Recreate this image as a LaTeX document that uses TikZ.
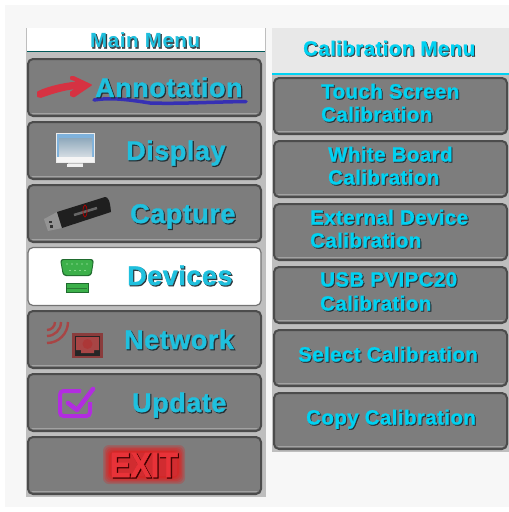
\documentclass[tikz,border=0pt]{standalone}
\usepackage{fontspec}
\setmainfont{Liberation Sans}
\newfontfamily\menufont[LetterSpace=2,FakeBold=1.2]{Liberation Sans Bold}
\newfontfamily\menushfont[LetterSpace=2,FakeBold=3.2]{Liberation Sans Bold}
\newfontfamily\calfont[LetterSpace=2,FakeBold=1.0]{Liberation Sans Bold}
\newfontfamily\calshfont[LetterSpace=2,FakeBold=1.6]{Liberation Sans Bold}
\newfontfamily\headfont[LetterSpace=2.8]{Liberation Sans Bold}
\newfontfamily\headshfont[LetterSpace=2.8,FakeBold=1.8]{Liberation Sans Bold}
\newfontfamily\exitfont[FakeBold=1.5]{Liberation Sans Bold}
\newfontfamily\exitshfont[FakeBold=3]{Liberation Sans Bold}
\definecolor{pagebg}{HTML}{F7F7F7}
\definecolor{panel}{HTML}{BEBEBE}
\definecolor{btn}{HTML}{7D7D7D}
\definecolor{btnedge}{HTML}{4C4C4C}
\definecolor{btnlow}{HTML}{A2A2A2}
\definecolor{menucyan}{HTML}{1FC0DE}
\definecolor{calcyan}{HTML}{00D2F2}
\definecolor{shade}{HTML}{1E2A30}
\definecolor{arrowred}{HTML}{D63242}
\definecolor{inkblue}{HTML}{3630B4}
\definecolor{checkpurple}{HTML}{B22CE0}
\definecolor{netred}{HTML}{A84545}
\definecolor{netframe}{HTML}{8A3C3C}
\definecolor{portgreen}{HTML}{3CB04A}
\definecolor{portdark}{HTML}{1F6B2E}
\definecolor{exitred}{HTML}{E83238}
\definecolor{monedge}{HTML}{7FB2DC}
\definecolor{montop}{HTML}{8FA9BC}
\definecolor{monlow}{HTML}{D5DDE3}
\tikzset{
  menubtn/.style={draw=btnedge,line width=2pt,fill=btn,rounded corners=5pt,minimum width=233pt,minimum height=57pt,inner sep=0pt},
  calbtn/.style={menubtn,minimum height=56pt},
  selbtn/.style={draw=black!55,line width=1.2pt,fill=white,rounded corners=5pt,minimum width=233pt,minimum height=58pt,inner sep=0pt},
  lowedge/.style={draw=btnlow,line width=1pt,line cap=round},
  base/.style={anchor=base west,inner sep=0pt},
  menutxt/.style={base,text=menucyan,font=\menufont\fontsize{27}{27}\selectfont},
  menutxts/.style={base,text=shade,text opacity=.85,font=\menushfont\fontsize{27}{27}\selectfont},
  caltxt/.style={base,text=calcyan,font=\calfont\fontsize{20.5}{20.5}\selectfont},
  caltxts/.style={base,text=shade,text opacity=.85,font=\calshfont\fontsize{20.5}{20.5}\selectfont},
  headtxt/.style={base,text=menucyan,font=\headfont\fontsize{20.5}{20.5}\selectfont},
  headtxts/.style={base,text=shade,text opacity=.85,font=\headshfont\fontsize{20.5}{20.5}\selectfont},
  exittxt/.style={base,xscale=.87,text=exitred,font=\exitfont\fontsize{35}{35}\selectfont},
  exittxts/.style={base,xscale=.87,text=black!75!red,font=\exitshfont\fontsize{35}{35}\selectfont},
}
% shadowed label: style, name, x, baseline y, text
\newcommand{\shlabel}[5]{%
  \node[#1s] (#2s) at (#3+1,#4+1) {#5};
  \node[#1] (#2) at (#3,#4) {#5};}
\newcommand{\lowline}[3]{\draw[lowedge] (#1,#3) -- (#2,#3);}
\begin{document}
\begin{tikzpicture}[x=1pt,y=-1pt]
\useasboundingbox (0,0) rectangle (509,512);
\fill[white] (0,0) rectangle (509,512);
\fill[pagebg] (5,5) rectangle (509,507);
% left panel
\fill[panel] (26,28) rectangle (266,497);
\fill[white] (27,28) rectangle (265,52);
\draw[teal!70!black,line width=1pt] (27,51.5) -- (265,51.5);
% left buttons
\node[menubtn] (annot) at (144.5,87.5) {};
\node[menubtn] (disp) at (144.5,150.5) {};
\node[menubtn] (capt) at (144.5,213.5) {};
\node[selbtn] (dev) at (144.5,276.5) {};
\node[menubtn] (netw) at (144.5,339.5) {};
\node[menubtn] (upd) at (144.5,402.5) {};
\node[menubtn] (exitb) at (144.5,465.5) {};
\foreach \yy in {113.5,176.5,239.5,365.5,428.5,491.5}{\lowline{32}{257}{\yy}}
% right panel
\fill[panel] (272,28) rectangle (509,452);
\fill[black!9] (272,28) rectangle (509,73);
\draw[calcyan,line width=2pt] (272,74) -- (509,74);
\node[calbtn] (touch) at (390.5,106) {};
\node[calbtn] (white) at (390.5,169) {};
\node[calbtn] (extd) at (390.5,232) {};
\node[calbtn] (usbc) at (390.5,295) {};
\node[calbtn] (sel) at (390.5,358) {};
\node[calbtn] (copyc) at (390.5,421) {};
\foreach \yy in {131.5,194.5,257.5,320.5,383.5,446.5}{\lowline{278}{503}{\yy}}
% annotation icon
\filldraw[arrowred,line width=1.6pt,line join=round] (38,92) .. controls (50,86) and (68,83) .. (80,82)
  -- (71,79) -- (71,77) -- (74,77) -- (91,85) -- (74,96.5) -- (71,95.5) -- (71,92) -- (78,88)
  .. controls (65,89) and (52,93) .. (41,97) -- (38,96.5) -- cycle;
\draw[line width=3.5pt,line cap=round,color=inkblue]
  (94,100) .. controls (110,97.5) and (125,99) .. (150,103) .. controls (180,104) and (210,102) .. (246,101.5);
% display icon
\fill[black!25] (68,162) rectangle (83,164);
\fill[black!6] (67,164) rectangle (83,167);
\fill[black!8] (56,133) rectangle (95,163);
\fill[monedge] (57,134) rectangle (94,138);
\fill[monedge] (57,134) rectangle (59,157);
\fill[monedge] (92,134) rectangle (94,157);
\shade[top color=montop,bottom color=monlow] (59,138) rectangle (92,157);
\fill[black!4] (57,157) rectangle (94,162);
% capture icon (USB stick)
\fill[black!42] (44,219) -- (57,212) -- (62,228) -- (48,231) -- cycle;
\fill[black!80] (49,220.5) rectangle (52,223);
\fill[black!80] (50,225) rectangle (53,227.5);
\fill[black!88] (57,212) -- (105,197) .. controls (108,197) and (110,200) .. (111,212) -- (62,228) -- cycle;
\draw[black!60,line width=2.5pt] (74,215) -- (97,208);
\draw[red!70!black,line width=.7pt] (85,211) ellipse (2pt and 6pt);
% devices icon
\fill[portdark,rounded corners=3pt] (60,259) -- (94,259) -- (91.5,276) -- (63,276) -- cycle;
\fill[portgreen,rounded corners=3pt] (61,260) -- (93,260) -- (90.5,275) -- (64,275) -- cycle;
\foreach \xx in {67,72,77,82,87}{\fill[white!80!green] (\xx,264) circle (.7pt);}
\foreach \xx in {70,75,80,85}{\fill[white!80!green] (\xx,270.5) circle (.7pt);}
\fill[portdark] (65.5,283) rectangle (89,293);
\fill[portgreen] (66.5,284) rectangle (88,292);
\fill[portgreen!70!black] (67,287.5) rectangle (87,288.5);
% network icon
\foreach \rr in {8,14,21}{\draw[netred,line width=2.4pt] (47+\rr,322) arc (0:-90:\rr pt);}
\fill[netframe] (72,333) rectangle (103,358);
\fill[black!85] (75,336) rectangle (100,355.5);
\fill[netred] (76,337) -- (99,337) -- (99,350) -- (94,350) -- (94,353) -- (81,353) -- (81,350) -- (76,350) -- cycle;
\fill[red!75!black,opacity=.2] (87.5,344) circle (5pt);
% update icon
\draw[black!50,line width=4pt,rounded corners=3.5pt] (82,392) -- (61,392) -- (61,417) -- (91,417) -- (91,403);
\draw[line width=4pt,rounded corners=3.5pt,color=checkpurple] (81,391) -- (60,391) -- (60,416) -- (90,416) -- (90,402);
\draw[line width=4.5pt,line cap=round,line join=round,color=checkpurple] (68,403) -- (77,410) -- (93,389);
% exit glow
\foreach \g in {8,6.5,5,3.5,2}{\fill[red,opacity=.2,rounded corners=6pt] (111-\g,453-\g) rectangle (177+\g,476+\g);}
\fill[exitred!90!black,opacity=.8,rounded corners=2pt] (111,453) rectangle (177,476);
% labels
\shlabel{headtxt}{lmain}{90}{47.5}{Main Menu}
\shlabel{menutxt}{lannot}{95}{97}{Annotation}
\shlabel{menutxt}{ldisp}{126}{160}{Display}
\shlabel{menutxt}{lcapt}{130}{223}{Capture}
\shlabel{menutxt}{ldev}{127}{285}{Devices}
\shlabel{menutxt}{lnetw}{124}{349}{Network}
\shlabel{menutxt}{lupd}{132}{412}{Update}
\shlabel{exittxt}{lexit}{110}{477}{EXIT}
\shlabel{caltxt}{lcal}{303}{55.5}{Calibration Menu}
\shlabel{caltxt}{ltouchA}{321}{98.5}{Touch Screen}
\shlabel{caltxt}{ltouchB}{321}{121.5}{Calibration}
\shlabel{caltxt}{lwhiteA}{328}{161.5}{White Board}
\shlabel{caltxt}{lwhiteB}{328}{184.5}{Calibration}
\shlabel{caltxt}{lextA}{310}{224.5}{External Device}
\shlabel{caltxt}{lextB}{310}{247.5}{Calibration}
\shlabel{caltxt}{lusbA}{320}{286.5}{USB PVIPC20}
\shlabel{caltxt}{lusbB}{320}{310.5}{Calibration}
\shlabel{caltxt}{lsel}{298}{361.5}{Select Calibration}
\shlabel{caltxt}{lcopy}{306}{424.5}{Copy Calibration}
\end{tikzpicture}
\end{document}
